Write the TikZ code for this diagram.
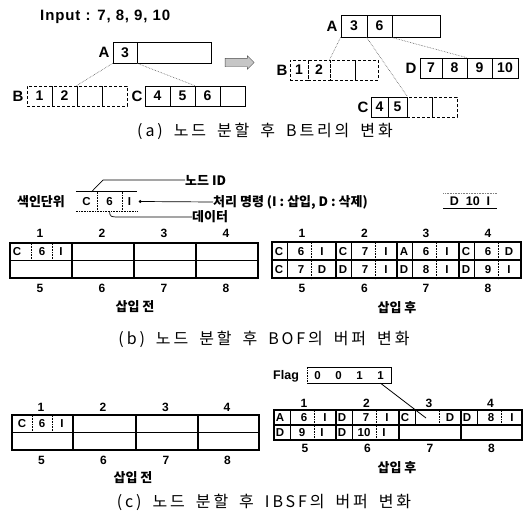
\documentclass[tikz,border=0pt]{standalone}
\usepackage{fontspec}
\setmainfont{Liberation Sans}
\newfontfamily\kr{Noto Sans CJK KR}
\newfontfamily\krcap{Noto Sans CJK KR}[LetterSpace=18]
\newfontfamily\inpf{Liberation Sans}[LetterSpace=6]
\usetikzlibrary{shapes.arrows,calc}
\newcommand{\gw}{\hspace{11pt}}
\begin{document}
\begin{tikzpicture}[x=1pt,y=-1pt,
  bx/.style={draw, line width=0.8pt, inner sep=0, font=\bfseries\fontsize{14}{14}\selectfont},
  bxd/.style={bx, densely dashed},
  lbl/.style={inner sep=0, font=\bfseries\fontsize{15}{15}\selectfont},
  dl/.style={densely dotted, line width=0.6pt, gray!70!black},
  krs/.style={inner sep=0, font=\kr\bfseries\fontsize{13}{13}\selectfont},
  captxt/.style={inner sep=0, font=\krcap\fontsize{16}{17}\selectfont},
  buf/.style={draw, line width=1.2pt, inner sep=0},
  bt/.style={inner sep=0, text height=8.3pt, text depth=0pt, font=\bfseries\fontsize{11.5}{12}\selectfont},
  bn/.style={inner sep=0, text height=8.6pt, text depth=0pt, font=\bfseries\fontsize{12}{12}\selectfont},
  sub/.style={line width=0.5pt},
  subd/.style={line width=0.6pt, densely dotted}
]
\fill[white] (0,0) rectangle (528,514);
\useasboundingbox (0,0) rectangle (528,514);

% ---------------- (a) ----------------
\node[inner sep=0, font=\inpf\bfseries\fontsize{15}{15}\selectfont, anchor=west] (inp) at (40,17) {Input : 7, 8, 9, 10};

\node[bx, minimum width=24, minimum height=21] (a1) at (125,52.5) {3};
\node[bx, minimum width=74, minimum height=21] (a2) at (174,52.5) {};
\node[lbl] (la) at (104,52.5) {A};

\foreach \i/\c/\t in {1/39.5/1, 2/64.5/2, 3/89.5/{}, 4/114.5/{}}
  \node[bxd, minimum width=25, minimum height=20] (b\i) at (\c,96) {\t};
\node[lbl] (lb) at (18,96) {B};
\foreach \i/\c/\t in {1/157.5/4, 2/182.5/5, 3/207.5/6, 4/232.5/{}}
  \node[bx, minimum width=25, minimum height=20] (c\i) at (\c,96) {\t};
\node[lbl] (lc) at (137,96) {C};

\draw[dl] (a1.south west) -- (b3.north west);
\draw[dl] (a1.south east) -- (c3.north west);

\node[single arrow, draw=gray!60!black, fill=gray!45, minimum height=29pt,
      inner xsep=0pt, inner ysep=4pt, single arrow head extend=2.5pt, line width=0.4pt] (garr) at (237.5,62.5) {};

% right tree
\node[bx, minimum width=26, minimum height=22] (ra1) at (354,26) {3};
\node[bx, minimum width=25, minimum height=22] (ra2) at (379.5,26) {6};
\node[bx, minimum width=48, minimum height=22] (ra3) at (416,26) {};
\node[lbl] (rla) at (332,26) {A};

\node[bxd, minimum width=18, minimum height=20] (rb1) at (299,70) {1};
\node[bxd, minimum width=22, minimum height=20] (rb2) at (319,70) {2};
\node[bxd, minimum width=25, minimum height=20] (rb3) at (342.5,70) {};
\node[bxd, minimum width=23, minimum height=20] (rb4) at (366.5,70) {};
\node[lbl] (rlb) at (282,70) {B};

\node[bx, minimum width=22, minimum height=20] (d1) at (431,68) {7};
\node[bx, minimum width=25, minimum height=20] (d2) at (454.5,68) {8};
\node[bx, minimum width=25, minimum height=20] (d3) at (479.5,68) {9};
\node[bx, minimum width=26, minimum height=20] (d4) at (505,68) {10};
\node[lbl] (rld) at (411,68) {D};

\node[bx, minimum width=17, minimum height=20] (rc1) at (379.5,107) {4};
\node[bx, minimum width=19, minimum height=20] (rc2) at (397.5,107) {5};
\node[bxd, minimum width=25, minimum height=20] (rc3) at (419.5,107) {};
\node[bxd, minimum width=25, minimum height=20] (rc4) at (444.5,107) {};
\node[lbl] (rlc) at (363,107) {C};

\draw[dl] (ra1.south west) -- (rb3.north west);
\draw[dl] (ra2.south west) -- (rc2.north east);
\draw[dl] (ra3.south west) -- (d3.north west);

\node[captxt] (capa) at (265,131) {(a)\gw 노드\gw 분할\gw 후\gw B트리의\gw 변화};

% ---------------- (b) ----------------
\node[krs] (sx) at (41,202) {색인단위};
\node[bt, minimum width=21, minimum height=19] (iu1) at (86.5,201.5) {C};
\node[bt, minimum width=25, minimum height=19] (iu2) at (109.5,201.5) {6};
\node[bt, minimum width=15, minimum height=19] (iu3) at (129.5,201.5) {I};
\draw[line width=0.7pt] (iu1.north west) -- (iu3.north east);
\draw[subd] (iu1.north east) -- (iu1.south east);
\draw[subd] (iu2.north east) -- (iu2.south east);
\draw[subd] (iu1.south west) -- (iu3.south east);

\node[krs, anchor=west] (nid) at (185,180) {노드 ID};
\draw[line width=0.7pt] ($(iu1.north)+(5,0)$) -- (103,180) -- (nid.west);
\node[krs, anchor=west] (cmd) at (213,202) {처리 명령 (I : 삽입, D : 삭제)};
\fill ($(iu3.east)+(3,0)$) circle (1.6);
\draw[line width=0.7pt] ($(iu3.east)+(3,0)$) -- (cmd.west);
\node[krs, anchor=west] (dat) at (192,217) {데이터};
\draw[line width=0.7pt] (iu2.south) .. controls (110,217) .. (122,217) -- (dat.west);

\node[bt, minimum width=53, minimum height=15, font=\bfseries\fontsize{12.5}{13}\selectfont] (ne) at (470,201) {D\hspace{7pt}10\hspace{7pt}I};
\draw[line width=0.7pt] (ne.south west) -- (ne.south east);
\draw[subd, gray] (ne.north west) -- (ne.north east);

% buffer (b) before
\foreach \k/\x in {1/41, 2/103, 3/165, 4/227}{
  \pgfmathtruncatemacro\kk{\k+4}
  \node[buf, minimum width=62, minimum height=17.5] (bl\k) at (\x,251.75) {};
  \node[buf, minimum width=62, minimum height=17.5] (bl\kk) at (\x,269.25) {};
  \node[bn] (nbl\k) at (\x-1,233) {\k};
  \node[bn] (nbl\kk) at (\x-1,288) {\kk};
}
\node[bt] (blt1) at (17,251.75) {C};
\node[bt] (blt2) at (42,251.75) {6};
\node[bt] (blt3) at (61,251.75) {I};
\draw[subd] ([xshift=22]bl1.north west) -- ([xshift=22]bl1.south west);
\draw[subd] ([xshift=43]bl1.north west) -- ([xshift=43]bl1.south west);
\node[krs] (sb1) at (135,307) {삽입 전};

% buffer (b) after
\foreach \k/\xz/\w/\la/\na/\fa/\lb/\nb/\fb in {1/272/64/C/6/I/C/7/D, 2/336/61/C/7/I/D/7/I, 3/397/62/A/6/I/D/8/I, 4/459/62/C/6/D/D/9/I}{
  \pgfmathsetmacro\cx{\xz+\w/2}
  \pgfmathtruncatemacro\kk{\k+4}
  \node[buf, minimum width=\w, minimum height=18] (br\k) at (\cx,251) {};
  \node[buf, minimum width=\w, minimum height=18] (br\kk) at (\cx,269) {};
  \node[bt] (brla\k) at (\xz+7,251) {\la};
  \node[bt] (brna\k) at (\xz+29,251) {\na};
  \node[bt] (brfa\k) at (\xz+50,251) {\fa};
  \node[bt] (brlb\k) at (\xz+7,269) {\lb};
  \node[bt] (brnb\k) at (\xz+29,269) {\nb};
  \node[bt] (brfb\k) at (\xz+50,269) {\fb};
  \draw[sub] ([xshift=16]br\k.north west) -- ([xshift=16]br\k.south west);
  \draw[subd] ([xshift=40]br\k.north west) -- ([xshift=40]br\k.south west);
  \draw[sub] ([xshift=16]br\kk.north west) -- ([xshift=16]br\kk.south west);
  \draw[subd] ([xshift=40]br\kk.north west) -- ([xshift=40]br\kk.south west);
  \node[bn] (nbr\k) at (\cx-2,233) {\k};
  \node[bn] (nbr\kk) at (\cx-2,288) {\kk};
}
\node[krs] (sb2) at (397,308) {삽입 후};

\node[captxt] (capb) at (264,339) {(b)\gw 노드\gw 분할\gw 후\gw BOF의\gw 버퍼\gw 변화};

% ---------------- (c) ----------------
\foreach \k/\x/\w in {1/42.5/61, 2/104.5/63, 3/167/62, 4/228.5/61}{
  \pgfmathtruncatemacro\kk{\k+4}
  \node[buf, minimum width=\w, minimum height=17.5] (cl\k) at (\x,423.75) {};
  \node[buf, minimum width=\w, minimum height=17.5] (cl\kk) at (\x,441.25) {};
  \node[bn] (ncl\k) at (\x-1.5,407) {\k};
  \node[bn] (ncl\kk) at (\x-1,460) {\kk};
}
\node[bt] (clt1) at (22,423.75) {C};
\node[bt] (clt2) at (42,423.75) {6};
\node[bt] (clt3) at (62,423.75) {I};
\draw[subd] ([xshift=21]cl1.north west) -- ([xshift=21]cl1.south west);
\draw[subd] ([xshift=41]cl1.north west) -- ([xshift=41]cl1.south west);
\node[krs] (sc1) at (133,478) {삽입 전};

% flag
\node[bt, anchor=west, font=\bfseries\fontsize{12.5}{13}\selectfont] (flg) at (273,375) {Flag};
\foreach \i/\x/\v in {1/317.5/0, 2/338.5/0, 3/359.5/1, 4/380.5/1}
  \node[bt, minimum width=21, minimum height=16] (f\i) at (\x,375) {\v};
\draw[line width=0.6pt] (f1.north west) -- (f4.north east) -- (f4.south east) -- (f1.south west);
\draw[subd] (f1.north west) -- (f1.south west);

% buffer (c) after
\foreach \k/\xz/\w/\cx in {1/274/62/305, 2/336/63/367.5, 3/399/62/430, 4/461/61/491.5}{
  \pgfmathtruncatemacro\kk{\k+4}
  \node[buf, minimum width=\w, minimum height=15] (cr\k) at (\cx,417.5) {};
  \node[buf, minimum width=\w, minimum height=15] (cr\kk) at (\cx,432.5) {};
  \node[bn] (ncr\k) at (\cx-1,403) {\k};
  \node[bn] (ncr\kk) at (\cx,448) {\kk};
}
\foreach \k/\xz/\la/\na/\fa in {1/274/A/6/I, 2/336/D/7/I, 3/399/C/{}/D, 4/461/D/8/I}{
  \node[bt] (crla\k) at (\xz+6,417.5) {\la};
  \node[bt] (crna\k) at (\xz+30,417.5) {\na};
  \node[bt] (crfa\k) at (\xz+51,417.5) {\fa};
  \draw[sub] ([xshift=17]cr\k.north west) -- ([xshift=17]cr\k.south west);
  \draw[subd] ([xshift=41]cr\k.north west) -- ([xshift=41]cr\k.south west);
}
\foreach \k/\xz/\la/\na/\fa in {1/274/D/9/I, 2/336/D/10/I}{
  \pgfmathtruncatemacro\kk{\k+4}
  \node[bt] (crlb\k) at (\xz+6,432.5) {\la};
  \node[bt] (crnb\k) at (\xz+28,432.5) {\na};
  \node[bt] (crfb\k) at (\xz+48,432.5) {\fa};
  \draw[sub] ([xshift=17]cr\kk.north west) -- ([xshift=17]cr\kk.south west);
  \draw[subd] ([xshift=41]cr\kk.north west) -- ([xshift=41]cr\kk.south west);
}
\coordinate (tg) at (426,418);
\draw[line width=0.8pt] (f4.south) -- (tg);
\node[krs] (sc2) at (397,468) {삽입 후};

\node[captxt] (capc) at (264,502) {(c)\gw 노드\gw 분할\gw 후\gw IBSF의\gw 버퍼\gw 변화};
\end{tikzpicture}
\end{document}
